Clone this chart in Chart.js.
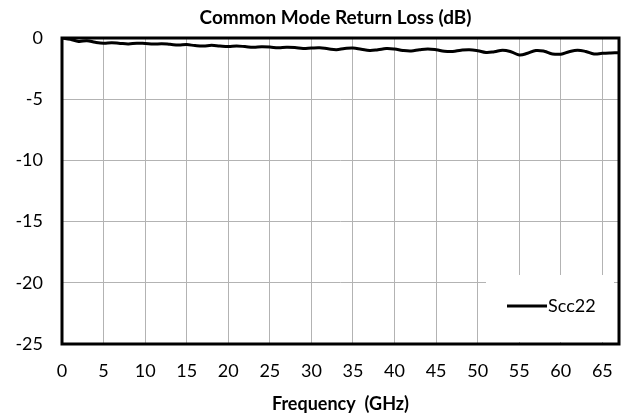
<!DOCTYPE html>
<html>
<head>
<meta charset="utf-8">
<script src="https://cdn.jsdelivr.net/npm/chart.js@4.4.0/dist/chart.umd.min.js"></script>
<style>
    html, body { margin: 0; padding: 0; background: #fff; }
    #wrap { width: 623px; height: 418px; position: relative; }
</style>
</head>
<body>
<div id="wrap"><canvas id="rlChart"></canvas></div>
<script>
// frequency points (GHz) and Scc22 values (dB)
const freqGHz = [0, 1, 2, 3, 4, 5, 6, 7, 8, 9, 10, 11, 12, 13, 14, 15, 16, 17, 18, 19,
    20, 21, 22, 23, 24, 25, 26, 27, 28, 29, 30, 31, 32, 33, 34, 35, 36, 37, 38, 39,
    40, 41, 42, 43, 44, 45, 46, 47, 48, 49, 50, 51, 52, 53, 54, 55, 56, 57, 58, 59,
    60, 61, 62, 63, 64, 65, 66, 67];
const scc22 = [0.00, -0.10, -0.28, -0.22, -0.35, -0.42, -0.38, -0.44, -0.48, -0.42,
    -0.45, -0.50, -0.47, -0.52, -0.58, -0.54, -0.62, -0.66, -0.60, -0.66,
    -0.70, -0.66, -0.70, -0.76, -0.72, -0.74, -0.80, -0.76, -0.78, -0.86,
    -0.82, -0.80, -0.88, -0.95, -0.86, -0.82, -0.92, -1.02, -0.96, -0.86,
    -0.90, -1.02, -1.06, -0.96, -0.90, -0.96, -1.08, -1.10, -1.00, -0.96,
    -1.04, -1.18, -1.12, -1.00, -1.12, -1.38, -1.25, -1.02, -1.08, -1.30,
    -1.32, -1.12, -1.00, -1.10, -1.30, -1.25, -1.22, -1.20];
const seriesName = 'Scc22';
const chartTitle = 'Common Mode Return Loss (dB)';
const xTitle = 'Frequency  (GHz)';

const fontFamily = "Lato, 'Open Sans', sans-serif";

// title centred over the plot, white legend box inside the plot (lower right), heavy frame
const plotDecor = {
    id: 'plotDecor',
    beforeDatasetsDraw(chart) {
        const { ctx, chartArea: a } = chart;
        ctx.save();
        ctx.fillStyle = '#fff';
        ctx.fillRect(a.right - 133, a.bottom - 69, 128, 67);
        ctx.restore();
    },
    afterDatasetsDraw(chart) {
        const { ctx, chartArea: a } = chart;
        const ds = chart.data.datasets[0];
        const y = a.bottom - 38;
        const x0 = a.right - 112;
        ctx.save();
        ctx.strokeStyle = ds.borderColor;
        ctx.lineWidth = 3;
        ctx.beginPath();
        ctx.moveTo(x0, y);
        ctx.lineTo(x0 + 40, y);
        ctx.stroke();
        ctx.fillStyle = '#000';
        ctx.font = '18px ' + fontFamily;
        ctx.textBaseline = 'middle';
        ctx.fillText(ds.label, x0 + 41, y);

        ctx.lineWidth = 3;
        ctx.strokeRect(a.left, a.top, a.right - a.left, a.bottom - a.top);

        ctx.font = 'bold 19px ' + fontFamily;
        ctx.textAlign = 'center';
        ctx.fillText(chartTitle, (a.left + a.right) / 2 - 5, 18);
        ctx.restore();
    }
};

function initChart() {
    const ctx = document.getElementById('rlChart').getContext('2d');
    new Chart(ctx, {
        type: 'line',
        data: {
            datasets: [{
                label: seriesName,
                data: freqGHz.map((f, i) => ({ x: f, y: scc22[i] })),
                borderColor: '#000',
                borderWidth: 3,
                pointRadius: 0,
                tension: 0.4
            }]
        },
        options: {
            responsive: true,
            maintainAspectRatio: false,
            animation: false,
            layout: { padding: { top: 38, right: 4, left: 0, bottom: 0 } },
            scales: {
                x: {
                    type: 'linear',
                    min: 0,
                    max: 67,
                    grid: { color: '#b3b3b3', lineWidth: 1, drawTicks: false },
                    border: { display: false },
                    ticks: {
                        stepSize: 5,
                        includeBounds: false,
                        maxRotation: 0,
                        padding: 16,
                        color: '#000',
                        font: { family: fontFamily, size: 18 }
                    },
                    title: {
                        display: true,
                        text: xTitle,
                        color: '#000',
                        font: { family: fontFamily, size: 18, weight: 'bold' },
                        padding: { top: 10, bottom: 3 }
                    },
                    afterFit(scale) {
                        scale.height = 74;
                        scale.paddingLeft = 0;
                        scale.paddingRight = 0;
                    }
                },
                y: {
                    min: -25,
                    max: 0,
                    grid: { color: '#b3b3b3', lineWidth: 1, drawTicks: false },
                    border: { display: false },
                    ticks: {
                        stepSize: 5,
                        padding: 19,
                        color: '#000',
                        font: { family: fontFamily, size: 18 }
                    },
                    afterFit(scale) {
                        scale.width = 62;
                        scale.paddingTop = 0;
                        scale.paddingBottom = 0;
                    }
                }
            },
            plugins: {
                legend: { display: false },
                tooltip: { enabled: false },
                title: { display: false }
            }
        },
        plugins: [plotDecor]
    });
}

window.addEventListener('load', initChart);
</script>
</body>
</html>
